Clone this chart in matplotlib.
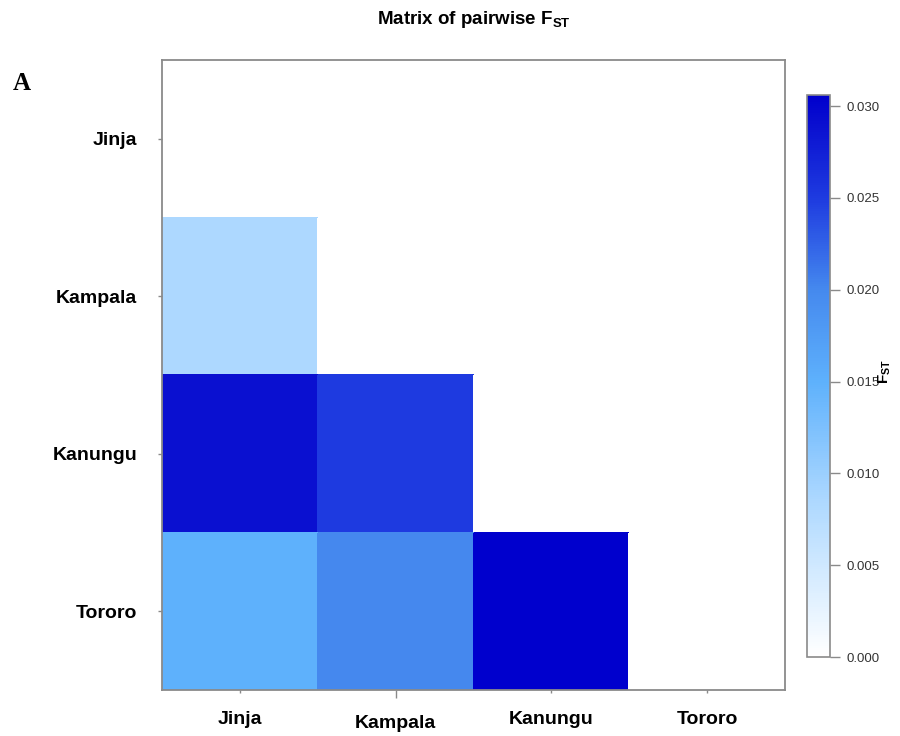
import numpy as np
import matplotlib
matplotlib.use("Agg")
import matplotlib.pyplot as plt
from matplotlib.colors import LinearSegmentedColormap, Normalize

# Populations (rows top to bottom, columns left to right)
populations = ["Jinja", "Kampala", "Kanungu", "Tororo"]

# Lower-triangle pairwise FST values, one list per row
fst_kampala = [0.0085]
fst_kanungu = [0.0290, 0.0250]
fst_tororo = [0.0150, 0.0200, 0.0306]

cbar_ticks = [0.000, 0.005, 0.010, 0.015, 0.020, 0.025, 0.030]
fst_max = 0.0306

plt.rcParams["font.family"] = ["Liberation Sans", "DejaVu Sans"]
plt.rcParams["mathtext.fontset"] = "custom"
plt.rcParams["mathtext.rm"] = "Liberation Sans"
plt.rcParams["mathtext.bf"] = "Liberation Sans:bold"

n = len(populations)
fst = np.full((n, n), np.nan)
for i, row in enumerate([[], fst_kampala, fst_kanungu, fst_tororo]):
    for j, v in enumerate(row):
        fst[i, j] = v
fst_masked = np.ma.masked_invalid(fst)

# White -> light blue -> sky blue -> royal blue -> medium blue
cmap = LinearSegmentedColormap.from_list(
    "fst_blues",
    [(0.0, "#ffffff"),
     (0.0085 / fst_max, "#add8ff"),
     (0.0150 / fst_max, "#5eb1fc"),
     (0.0200 / fst_max, "#4589ee"),
     (0.0250 / fst_max, "#1e3be0"),
     (0.0290 / fst_max, "#0a10d0"),
     (1.0, "#0000cd")],
)
cmap.set_bad("white")
norm = Normalize(vmin=0.0, vmax=fst_max)

W, H = 900, 736
fig = plt.figure(figsize=(W / 100, H / 100), dpi=100)
ax = fig.add_axes([162 / W, 1 - 690 / H, 623 / W, 630 / H])

mesh = ax.pcolormesh(np.arange(n + 1), np.arange(n + 1), fst_masked,
                     cmap=cmap, norm=norm, edgecolors="face", linewidth=0.3)
ax.set_xlim(0, n)
ax.set_ylim(n, 0)

gray = "#8a8a8a"
for s in ax.spines.values():
    s.set_color(gray)
    s.set_linewidth(1.3)

ax.set_xticks(np.arange(n) + 0.5)
ax.set_xticklabels(populations, fontsize=14, fontweight="bold")
ax.set_yticks(np.arange(n) + 0.5)
ax.set_yticklabels(populations, fontsize=14, fontweight="bold")
ax.tick_params(axis="x", length=2.5, width=1.0, color=gray, pad=12.5)
ax.tick_params(axis="y", length=3.0, width=1.0, color=gray, pad=15.0)

# Staggered second x label with a longer tick
kt = ax.xaxis.get_major_ticks()[1]
kt.tick1line.set_markersize(6.0)
kt.set_pad(15.5)
kt.tick1line.set_markersize(6.0)

ax.set_title(r"Matrix of pairwise $\mathbf{F_{ST}}$", fontsize=13.5,
             fontweight="bold", pad=26)

fig.text(13 / W, 1 - 90 / H, "A", family="Liberation Serif",
         fontweight="bold", fontsize=18, ha="left", va="baseline")

# Colour key
cax = fig.add_axes([807 / W, 1 - 657 / H, 23 / W, 562 / H])
cb = fig.colorbar(mesh, cax=cax, ticks=cbar_ticks)
cb.ax.set_yticklabels([f"{t:.3f}" for t in cbar_ticks])
cb.outline.set_edgecolor(gray)
cb.outline.set_linewidth(1.2)
cb.ax.tick_params(length=7, width=1.0, color=gray, labelsize=9.5,
                  labelcolor="#333333", pad=5)
fig.text(885 / W, 1 - 372 / H, r"$\mathbf{F_{ST}}$", rotation=90,
         fontsize=11, ha="center", va="center")

fig.savefig("out.png", dpi=100)
